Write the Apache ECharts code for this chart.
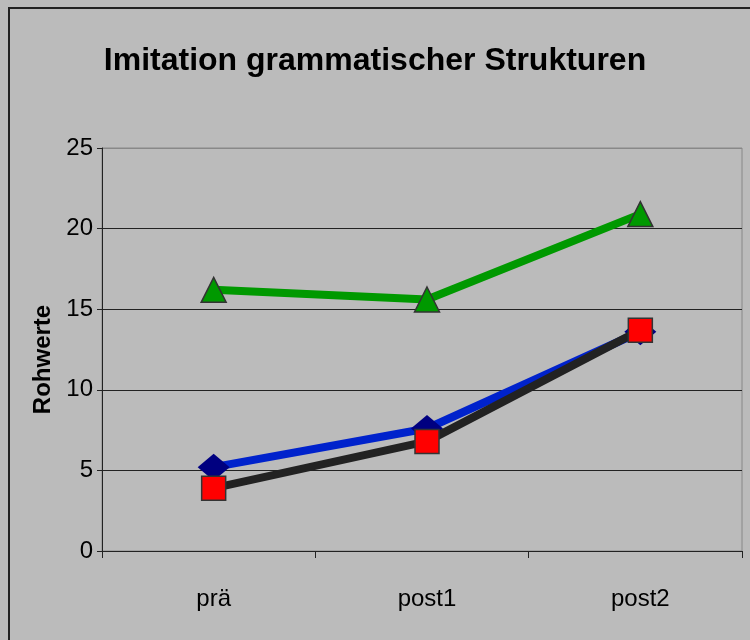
<!DOCTYPE html>
<html>
<head>
<meta charset="utf-8">
<script src="https://cdn.jsdelivr.net/npm/echarts@6/dist/echarts.min.js"></script>
<style>
  html, body { margin: 0; padding: 0; background: #bbbbbb; }
  #main { width: 750px; height: 640px; }
</style>
</head>
<body>
<div id="main"></div>
<script>
// Daten
var kategorien = ['prä', 'post1', 'post2'];
var reiheBlau = [5.2, 7.6, 13.6];
var reiheSchwarz = [3.9, 6.8, 13.7];
var reiheGruen = [16.2, 15.6, 20.9];
var yTicks = [0, 5, 10, 15, 20, 25];

var schrift = "'Liberation Sans', Arial, sans-serif";

var myChart = echarts.init(document.getElementById('main'));

// Achsen im Grid 0, Linien im leicht nach rechts versetzten Grid 1 (wie im Original)
myChart.setOption({
    backgroundColor: '#bbbbbb',
    animation: false,
    title: {
        text: 'Imitation grammatischer Strukturen',
        left: 'center',
        top: 40,
        textStyle: {
            fontFamily: schrift,
            fontWeight: 'bold',
            fontSize: 32,
            color: '#000'
        }
    },
    // äußerer Rahmen
    graphic: [{
        type: 'rect',
        shape: { x: 9, y: 8, width: 800, height: 700 },
        style: { fill: 'none', stroke: '#222', lineWidth: 2 },
        silent: true
    }],
    grid: [
        {
            left: 102,
            right: 8,
            top: 148,
            bottom: 89,
            show: true,
            backgroundColor: 'transparent',
            borderColor: '#888',
            borderWidth: 1
        },
        {
            left: 107,
            right: 3,
            top: 148,
            bottom: 89
        }
    ],
    xAxis: [
        {
            type: 'category',
            gridIndex: 0,
            data: kategorien,
            boundaryGap: true,
            axisLine: { lineStyle: { color: '#222', width: 1 } },
            axisTick: { show: true, length: 7, lineStyle: { color: '#222' } },
            axisLabel: {
                margin: 36,
                padding: [0, 0, 0, 10],
                fontFamily: schrift,
                fontSize: 24,
                color: '#000'
            }
        },
        {
            type: 'category',
            gridIndex: 1,
            data: kategorien,
            boundaryGap: true,
            show: false
        }
    ],
    yAxis: [
        {
            type: 'value',
            gridIndex: 0,
            min: yTicks[0],
            max: yTicks[yTicks.length - 1],
            interval: 5,
            name: 'Rohwerte',
            nameLocation: 'middle',
            nameGap: 40,
            nameTextStyle: {
                fontFamily: schrift,
                fontWeight: 'bold',
                fontSize: 24,
                color: '#000',
                padding: [0, 20, 0, 0]
            },
            axisLine: { show: true, lineStyle: { color: '#222', width: 1 } },
            axisTick: { show: true, length: 5, lineStyle: { color: '#222' } },
            axisLabel: {
                margin: 9,
                fontFamily: schrift,
                fontSize: 24,
                color: '#000'
            },
            splitLine: {
                show: true,
                lineStyle: { color: ['#222', '#222', '#222', '#222', '#222', '#888'], width: 1 }
            }
        },
        {
            type: 'value',
            gridIndex: 1,
            min: yTicks[0],
            max: yTicks[yTicks.length - 1],
            interval: 5,
            show: false,
            splitLine: { show: false }
        }
    ],
    series: [
        {
            name: 'blau',
            type: 'line',
            xAxisIndex: 1,
            yAxisIndex: 1,
            data: reiheBlau,
            symbol: 'diamond',
            symbolSize: [32, 27],
            lineStyle: { color: '#0022cc', width: 8 },
            itemStyle: { color: '#000080', borderWidth: 0 },
            z: 2
        },
        {
            name: 'schwarz',
            type: 'line',
            xAxisIndex: 1,
            yAxisIndex: 1,
            data: reiheSchwarz,
            symbol: 'rect',
            symbolSize: 24,
            lineStyle: { color: '#222222', width: 8 },
            itemStyle: { color: '#ff0000', borderColor: '#333', borderWidth: 1.5 },
            z: 3
        },
        {
            name: 'grün',
            type: 'line',
            xAxisIndex: 1,
            yAxisIndex: 1,
            data: reiheGruen,
            symbol: 'triangle',
            symbolSize: 25,
            lineStyle: { color: '#009900', width: 8 },
            itemStyle: { color: '#009900', borderColor: '#333', borderWidth: 1.5 },
            z: 4
        }
    ]
});
</script>
</body>
</html>
